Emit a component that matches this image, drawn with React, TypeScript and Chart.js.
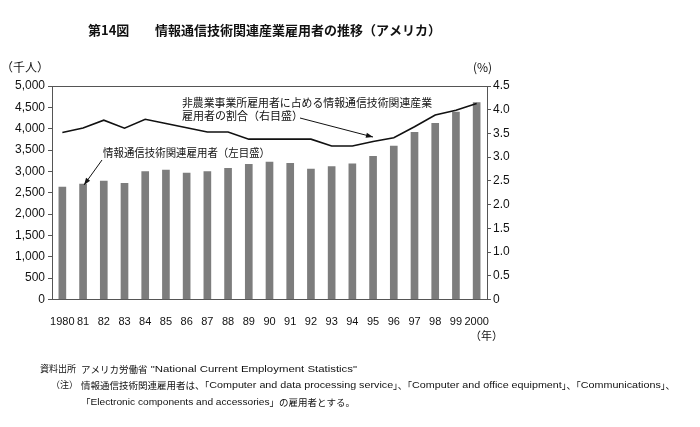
import React, { useEffect, useRef } from "react";
import { Chart, registerables } from "chart.js";

Chart.register(...registerables);

const years = ["1980", "81", "82", "83", "84", "85", "86", "87", "88", "89", "90", "91", "92", "93", "94", "95", "96", "97", "98", "99", "2000"];
const employees = [2635, 2705, 2775, 2721, 2993, 3033, 2963, 2993, 3072, 3166, 3220, 3189, 3056, 3110, 3180, 3353, 3595, 3915, 4126, 4391, 4610];
const sharePct = [3.52, 3.615, 3.78, 3.61, 3.8, 3.71, 3.62, 3.53, 3.53, 3.38, 3.38, 3.38, 3.38, 3.235, 3.235, 3.33, 3.41, 3.64, 3.89, 3.99, 4.13];

const titleNo = "第14図";
const titleText = "情報通信技術関連産業雇用者の推移（アメリカ）";
const leftUnit = "（千人）";
const rightUnit = "(%)";
const xUnit = "（年）";
const shareLabel1 = "非農業事業所雇用者に占める情報通信技術関連産業";
const shareLabel2 = "雇用者の割合（右目盛）";
const empLabel = "情報通信技術関連雇用者（左目盛）";
const srcHead = "資料出所";
const srcText = "アメリカ労働省 \"National Current Employment Statistics\"";
const noteHead = "（注）";
const noteText1 = "情報通信技術関連雇用者は、「Computer and data processing service」、「Computer and office equipment」、「Communications」、";
const noteText2 = "「Electronic components and accessories」の雇用者とする。";

const JP = "'Noto Sans CJK JP', 'Liberation Sans', sans-serif";
const SANS = "'Liberation Sans', 'Noto Sans CJK JP', sans-serif";

function txt(ctx: CanvasRenderingContext2D, s: string, x: number, y: number, font: string, width?: number) {
  ctx.save();
  ctx.font = font;
  ctx.fillStyle = "#111";
  ctx.textBaseline = "middle";
  ctx.textAlign = "left";
  if (width) {
    const w = ctx.measureText(s).width;
    ctx.translate(x, y);
    ctx.scale(width / w, 1);
    ctx.fillText(s, 0, 0);
  } else {
    ctx.fillText(s, x, y);
  }
  ctx.restore();
}

// Mixed text: CJK runs drawn at natural width, Latin runs condensed to reach the target width
function mixed(ctx: CanvasRenderingContext2D, s: string, x: number, y: number, size: number, width: number) {
  const runs: { t: string; cjk: boolean }[] = [];
  for (const ch of s) {
    const cjk = /[\u3000-\u9fff\uff00-\uffef]/.test(ch);
    if (runs.length && runs[runs.length - 1].cjk === cjk) runs[runs.length - 1].t += ch;
    else runs.push({ t: ch, cjk });
  }
  ctx.save();
  ctx.fillStyle = "#111";
  ctx.textBaseline = "middle";
  ctx.textAlign = "left";
  const jf = `${size}px ${JP}`;
  const lf = `${size}px ${SANS}`;
  let cw = 0, lw = 0;
  for (const r of runs) {
    ctx.font = r.cjk ? jf : lf;
    const w = ctx.measureText(r.t).width;
    if (r.cjk) cw += w; else lw += w;
  }
  const k = lw > 0 ? Math.max(0.5, Math.min(1.2, (width - cw) / lw)) : 1;
  let cx = x;
  for (const r of runs) {
    ctx.font = r.cjk ? jf : lf;
    const w = ctx.measureText(r.t).width;
    ctx.save();
    ctx.translate(cx, y);
    if (!r.cjk) ctx.scale(k, 1);
    ctx.fillText(r.t, 0, 0);
    ctx.restore();
    cx += r.cjk ? w : w * k;
  }
  ctx.restore();
}

function arrow(ctx: CanvasRenderingContext2D, x1: number, y1: number, x2: number, y2: number) {
  ctx.save();
  ctx.strokeStyle = "#111";
  ctx.fillStyle = "#111";
  ctx.lineWidth = 1;
  ctx.beginPath();
  ctx.moveTo(x1, y1);
  ctx.lineTo(x2, y2);
  ctx.stroke();
  const a = Math.atan2(y2 - y1, x2 - x1);
  const L = 7, W = 2.5;
  ctx.beginPath();
  ctx.moveTo(x2, y2);
  ctx.lineTo(x2 - L * Math.cos(a) + W * Math.sin(a), y2 - L * Math.sin(a) - W * Math.cos(a));
  ctx.lineTo(x2 - L * Math.cos(a) - W * Math.sin(a), y2 - L * Math.sin(a) + W * Math.cos(a));
  ctx.closePath();
  ctx.fill();
  ctx.restore();
}

const textPlugin = {
  id: "texts",
  afterDraw(chart: any) {
    const ctx: CanvasRenderingContext2D = chart.ctx;
    const ca = chart.chartArea;
    ctx.save();
    ctx.strokeStyle = "#555";
    ctx.lineWidth = 1;
    ctx.beginPath();
    ctx.moveTo(ca.left, ca.top + 0.5);
    ctx.lineTo(ca.right, ca.top + 0.5);
    ctx.stroke();
    ctx.restore();

    txt(ctx, titleNo, 88, 30, `bold 13px ${JP}`);
    txt(ctx, titleText, 155, 30, `bold 13px ${JP}`);
    txt(ctx, leftUnit, 1, 67, `12px ${JP}`);
    txt(ctx, rightUnit, 473, 67, `12px ${JP}`);
    txt(ctx, xUnit, 470, 336, `11px ${JP}`);

    txt(ctx, shareLabel1, 182, 103, `11px ${JP}`, 250);
    txt(ctx, shareLabel2, 182, 115.5, `11px ${JP}`);
    txt(ctx, empLabel, 103, 153, `11px ${JP}`, 167);

    arrow(ctx, 300, 118, 373, 137);
    arrow(ctx, 102, 160, 84, 185);

    txt(ctx, srcHead, 40, 369, `9px ${JP}`);
    mixed(ctx, srcText, 81, 369, 9.5, 298);
    txt(ctx, noteHead, 51, 385, `9px ${JP}`);
    mixed(ctx, noteText1, 81, 385, 9.5, 594);
    mixed(ctx, noteText2, 81, 402, 9.5, 274);
  },
};

export default function App() {
  const ref = useRef<HTMLCanvasElement>(null);
  useEffect(() => {
    if (!ref.current) return;
    const chart = new Chart(ref.current, {
      type: "bar",
      data: {
        labels: years,
        datasets: [
          {
            type: "line",
            data: sharePct,
            yAxisID: "y1",
            borderColor: "#111",
            borderWidth: 1.6,
            pointRadius: 0,
            tension: 0,
            order: 1,
          } as any,
          {
            type: "bar",
            data: employees,
            yAxisID: "y",
            backgroundColor: "#7d7d7d",
            borderWidth: 0,
            barThickness: 7,
            order: 2,
          },
        ],
      },
      options: {
        responsive: false,
        animation: false,
        layout: { padding: { top: 86, left: 0, right: 0, bottom: 0 } },
        plugins: { legend: { display: false }, tooltip: { enabled: false }, title: { display: false } },
        scales: {
          x: {
            grid: { display: false },
            border: { display: true, color: "#555", width: 1 },
            ticks: { color: "#111", font: { family: SANS, size: 11 }, padding: 8, maxRotation: 0, autoSkip: false },
            afterFit: (s: any) => { s.height = 127.5; },
          },
          y: {
            position: "left",
            min: 0,
            max: 5000,
            grid: { drawOnChartArea: false, drawTicks: true, tickLength: 4, color: "#555" },
            border: { display: true, color: "#555", width: 1 },
            ticks: {
              stepSize: 500,
              color: "#111",
              font: { family: SANS, size: 12 },
              padding: 3,
              callback: (v: any) => Number(v).toLocaleString("en-US"),
            },
            afterFit: (s: any) => { s.width = 52; },
          },
          y1: {
            position: "right",
            min: 0,
            max: 4.5,
            grid: { drawOnChartArea: false, drawTicks: true, tickLength: 4, color: "#555" },
            border: { display: true, color: "#555", width: 1 },
            ticks: {
              stepSize: 0.5,
              color: "#111",
              font: { family: SANS, size: 12 },
              padding: 2,
              callback: (v: any) => (Number(v) === 0 ? "0" : Number(v).toFixed(1)),
            },
            afterFit: (s: any) => { s.width = 213; },
          },
        },
      },
      plugins: [textPlugin],
    });
    return () => chart.destroy();
  }, []);
  return (
    <div style={{ position: "absolute", left: 0, top: 0, width: 700, height: 427, background: "#fff" }}>
      <canvas ref={ref} width={700} height={427} />
    </div>
  );
}
